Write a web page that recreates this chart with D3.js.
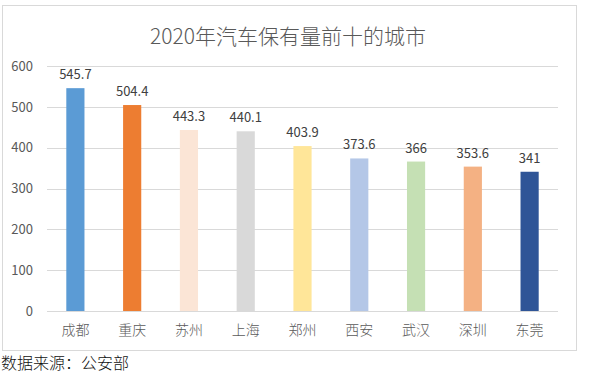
<!DOCTYPE html>
<html>
<meta charset="utf-8">
<script src="https://d3js.org/d3.v7.min.js"></script>
<style>
    body { margin: 0; background: #fff; }
    text { font-family: "Noto Sans CJK SC", "Noto Sans", sans-serif; }
</style>
<body>
<svg width="597" height="374"></svg>
<script>
    const cities = ["成都", "重庆", "苏州", "上海", "郑州", "西安", "武汉", "深圳", "东莞"];
    const values = [545.7, 504.4, 443.3, 440.1, 403.9, 373.6, 366, 353.6, 341];
    const colors = ["#5B9BD5", "#ED7D31", "#FBE5D6", "#D9D9D9", "#FFE699", "#B4C7E7", "#C5E0B4", "#F4B183", "#2F5597"];
    const yTicks = [0, 100, 200, 300, 400, 500, 600];

    let svg = d3.select("svg"),
        margin = { top: 66, right: 39, bottom: 63, left: 47 },
        width = +svg.attr("width") - margin.left - margin.right,
        height = +svg.attr("height") - margin.top - margin.bottom;

    // chart frame
    svg.append("rect").attr("x", 2.5).attr("y", 5.5).attr("width", 574).attr("height", 345)
        .style("fill", "#fff").style("stroke", "#d9d9d9");

    svg.append("text").attr("x", 288).attr("y", 44).attr("text-anchor", "middle")
        .style("font-size", "21px").style("font-weight", 300).style("fill", "#595959")
        .text("2020年汽车保有量前十的城市");

    let x = d3.scaleBand().domain(cities).range([0, width]).paddingInner(0.68).paddingOuter(0.34),
        y = d3.scaleLinear().domain([0, 600]).range([height, 0]);

    let g = svg.append("g").attr("transform", `translate(${margin.left},${margin.top})`);

    // gridlines
    g.selectAll("line.grid").data(yTicks).enter().append("line")
        .attr("class", "grid")
        .attr("x1", 0).attr("x2", width)
        .attr("y1", d => Math.round(y(d)) + 0.5).attr("y2", d => Math.round(y(d)) + 0.5)
        .style("stroke", "#d9d9d9");

    let yAxis = g.append("g").call(d3.axisLeft(y).tickValues(yTicks).tickSize(0).tickPadding(14));
    yAxis.select(".domain").remove();
    yAxis.selectAll("text").style("font-size", "13px").style("fill", "#595959");

    let xAxis = g.append("g").attr("transform", `translate(0,${height})`)
        .call(d3.axisBottom(x).tickSize(0).tickPadding(14));
    xAxis.select(".domain").remove();
    xAxis.selectAll("text").style("font-size", "14px").style("font-weight", 300).style("fill", "#595959");

    g.selectAll("rect.bar").data(values).enter().append("rect")
        .attr("class", "bar")
        .attr("x", (d, i) => x(cities[i]))
        .attr("y", d => y(d))
        .attr("width", x.bandwidth())
        .attr("height", d => height - y(d))
        .style("fill", (d, i) => colors[i]);

    g.selectAll("text.label").data(values).enter().append("text")
        .attr("class", "label")
        .attr("x", (d, i) => x(cities[i]) + x.bandwidth() / 2)
        .attr("y", d => y(d) - 9)
        .attr("text-anchor", "middle")
        .style("font-size", "13px").style("fill", "#404040")
        .text(d => d);

    svg.append("text").attr("x", 1).attr("y", 369)
        .style("font-size", "16px").style("font-weight", 300).style("fill", "#111").text("数据来源：公安部");
</script>
</body>
</html>
